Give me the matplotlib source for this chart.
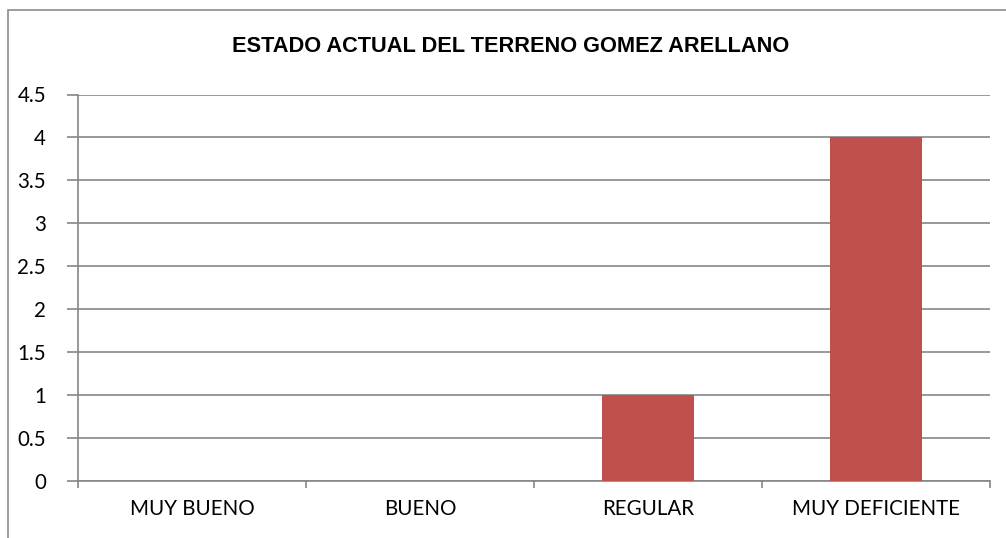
import matplotlib
matplotlib.use("Agg")
import matplotlib.pyplot as plt
from matplotlib.patches import Rectangle

categories = ["MUY BUENO", "BUENO", "REGULAR", "MUY DEFICIENTE"]
values = [0, 0, 1, 4]
yticks = [0, 0.5, 1, 1.5, 2, 2.5, 3, 3.5, 4, 4.5]
ytick_labels = ["0", "0.5", "1", "1.5", "2", "2.5", "3", "3.5", "4", "4.5"]
title = "ESTADO ACTUAL DEL TERRENO GOMEZ ARELLANO"

plt.rcParams['font.family'] = ['Lato', 'DejaVu Sans']

W, H = 1006, 538
fig = plt.figure(figsize=(W / 100, H / 100), dpi=100)

# outer chart border
fig.patches.append(Rectangle((8 / W, -0.1), 1.2, (H - 10) / H + 0.1,
                             transform=fig.transFigure, fill=False,
                             edgecolor="#8c8c8c", linewidth=1.2))

left, right, top, bottom = 78, 990, 94.5, 481
ax = fig.add_axes([left / W, 1 - bottom / H, (right - left) / W, (bottom - top) / H])

grid_color = "#868686"
x = list(range(len(categories)))
ax.bar(x, values, width=0.4, color="#C0504D", zorder=3)
ax.set_xlim(-0.5, len(categories) - 0.5)
ax.set_ylim(0, 4.5)
ax.set_yticks(yticks)
ax.set_yticklabels(ytick_labels)
ax.yaxis.grid(True, color=grid_color, linewidth=1.2, zorder=0)
ax.set_axisbelow(True)

for s in ["top", "right"]:
    ax.spines[s].set_visible(False)
for s in ["left", "bottom"]:
    ax.spines[s].set_color(grid_color)
    ax.spines[s].set_linewidth(1.2)

ax.set_xticks([i + 0.5 for i in range(-1, len(categories))])
ax.set_xticklabels([])
ax.tick_params(axis="x", which="major", length=5, color=grid_color, width=1.2, direction="out")
ax.set_xticks(x, minor=True)
ax.set_xticklabels(categories, minor=True)
ax.tick_params(axis="x", which="minor", length=0, pad=13, labelsize=14.8)
ax.tick_params(axis="y", length=8, color=grid_color, width=1.2, labelsize=14.8, pad=15)

fig.text(511 / W, 1 - 47 / H, title, ha="center", va="center",
         fontsize=15.7, fontweight="bold", family=["Liberation Sans", "DejaVu Sans"])

fig.savefig("out.png", dpi=100)
